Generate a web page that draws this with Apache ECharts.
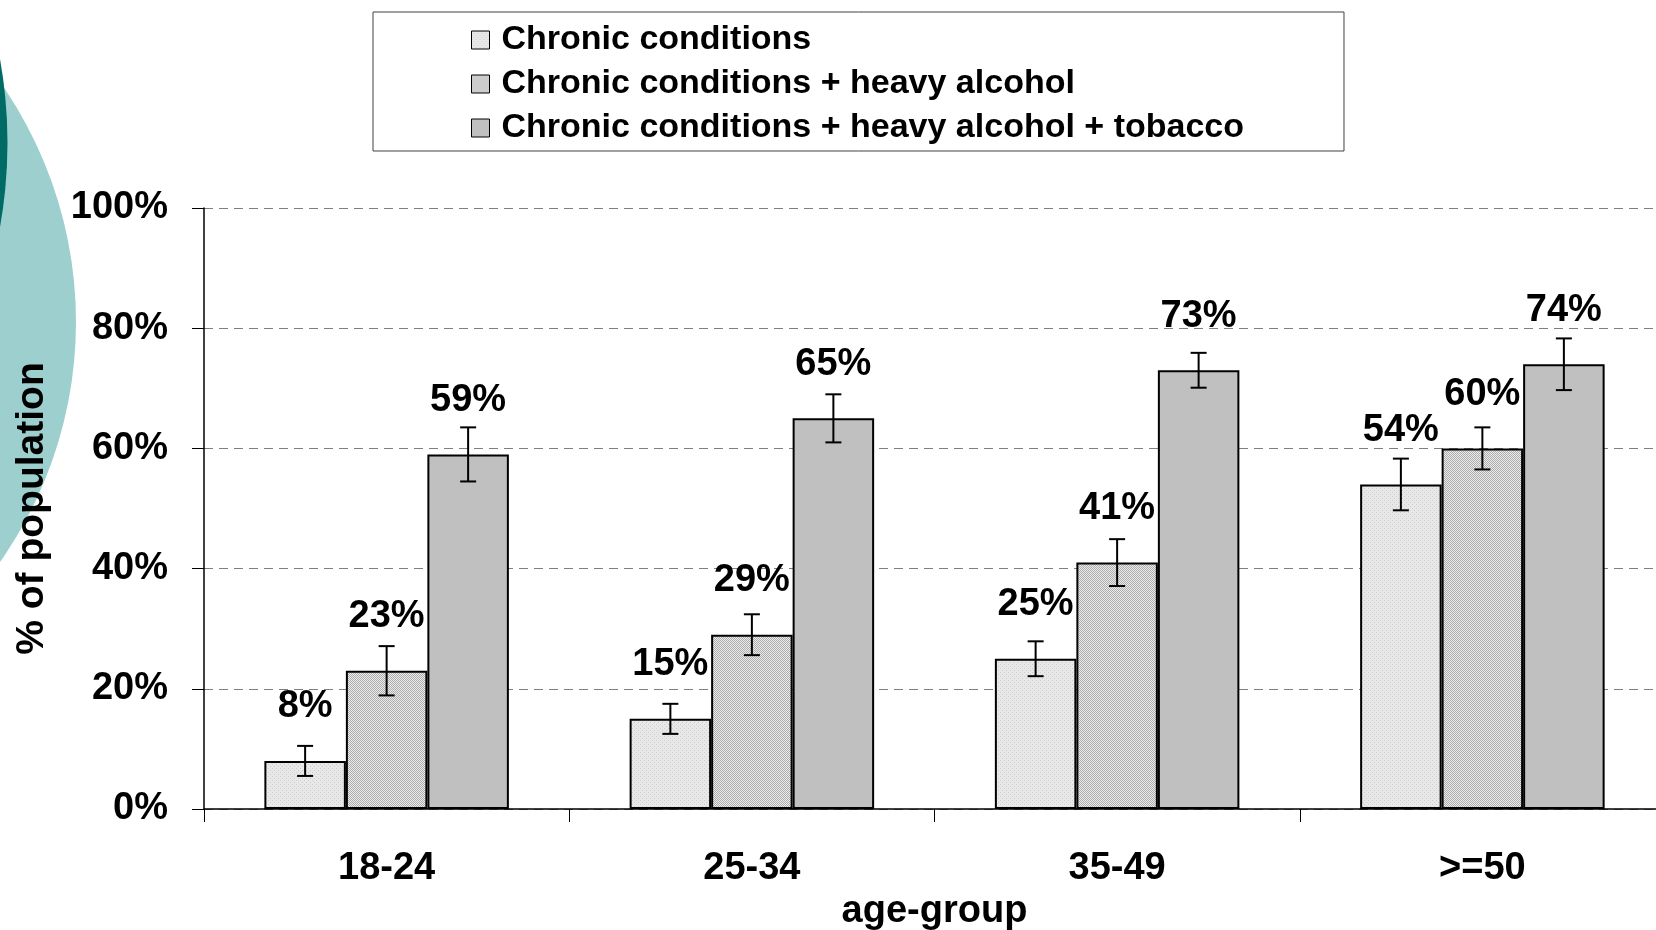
<!DOCTYPE html>
<html><head><meta charset="utf-8">
<script src="https://cdn.jsdelivr.net/npm/echarts@6/dist/echarts.min.js"></script>
<style>html,body{margin:0;padding:0;background:#fff}#c{width:1656px;height:930px}</style>
</head><body><div id="c"></div>
<script>
// ---- data ----
const categories = ['18-24', '25-34', '35-49', '>=50'];
const seriesNames = ['Chronic conditions', 'Chronic conditions + heavy alcohol', 'Chronic conditions + heavy alcohol + tobacco'];
const chronic = [8, 15, 25, 54];
const chronicAlcohol = [23, 29, 41, 60];
const chronicAlcoholTobacco = [59, 65, 73, 74];
const errChronic = [2.5, 2.5, 2.9, 4.3];
const errChronicAlcohol = [4.1, 3.4, 3.9, 3.5];
const errChronicAlcoholTobacco = [4.5, 4.0, 2.9, 4.3];
const yAxisName = '% of population';
const xAxisName = 'age-group';

// ---- styles ----
const FONT = "'Liberation Sans', Arial, Helvetica, sans-serif";
const BAR_W = 81.5;

function pattern(bg, fg, fn) {
  const c = document.createElement('canvas');
  c.width = 4; c.height = 4;
  const g = c.getContext('2d');
  g.fillStyle = bg; g.fillRect(0, 0, 4, 4);
  g.fillStyle = fg;
  for (let x = 0; x < 4; x++) for (let y = 0; y < 4; y++) if (fn(x, y)) g.fillRect(x, y, 1, 1);
  return { image: c, repeat: 'repeat' };
}
const fill1 = pattern('#e8e8e8', '#cdcdcd', (x, y) => ((x + y) % 4 === 0 && x % 2 === 0));
const fill2 = pattern('#ececec', '#acacac', (x, y) => ((x + y) % 2 === 0));
const fill3 = '#c0c0c0';

const chart = echarts.init(document.getElementById('c'), null, { renderer: 'canvas' });

function barSeries(name, values, color) {
  return {
    type: 'bar', name: name, data: values,
    barWidth: BAR_W, barGap: '0%',
    itemStyle: { color: color, borderColor: '#000', borderWidth: 2 },
    label: {
      show: true, position: 'top', distance: 35,
      formatter: '{c}%', fontSize: 38, fontWeight: 'bold', color: '#000', fontFamily: FONT
    },
    z: 3
  };
}
function errSeries(values, errs, idx) {
  return {
    type: 'custom',
    data: values.map((v, i) => [i, v - errs[i], v + errs[i]]),
    encode: { x: 0, y: [1, 2] },
    renderItem: function (params, api) {
      const hi = api.coord([api.value(0), api.value(2)]);
      const lo = api.coord([api.value(0), api.value(1)]);
      const cx = hi[0] + (idx - 1) * BAR_W;
      const cap = 8;
      const st = { stroke: '#000', lineWidth: 2 };
      return {
        type: 'group',
        children: [
          { type: 'line', shape: { x1: cx, y1: hi[1], x2: cx, y2: lo[1] }, style: st },
          { type: 'line', shape: { x1: cx - cap, y1: hi[1], x2: cx + cap, y2: hi[1] }, style: st },
          { type: 'line', shape: { x1: cx - cap, y1: lo[1], x2: cx + cap, y2: lo[1] }, style: st }
        ]
      };
    },
    z: 6, silent: true
  };
}

const option = {
  backgroundColor: '#ffffff',
  animation: false,
  textStyle: { fontFamily: FONT },
  graphic: [
    { type: 'circle', shape: { cx: -341, cy: 322, r: 417 }, style: { fill: '#9dcfcf' }, z: -10, silent: true },
    { type: 'circle', shape: { cx: -468, cy: 143, r: 475.5 }, style: { fill: '#006b65' }, z: -9, silent: true }
  ],
  legend: {
    data: seriesNames,
    orient: 'vertical',
    left: 373, top: 12,
    icon: 'rect',
    itemWidth: 18, itemHeight: 18, itemGap: 10,
    padding: [11, 100, 6, 98],
    borderColor: '#404040', borderWidth: 1,
    backgroundColor: '#fff',
    selectedMode: false,
    itemStyle: { borderColor: '#000', borderWidth: 1 },
    textStyle: { fontSize: 34, fontWeight: 'bold', lineHeight: 34, color: '#000', fontFamily: FONT, padding: [0, 0, 0, 7] }
  },
  grid: { left: 204, top: 208, width: 1461, bottom: 121, containLabel: false, outerBoundsMode: 'none' },
  xAxis: {
    type: 'category', data: categories,
    name: xAxisName, nameLocation: 'middle', nameGap: 76,
    nameTextStyle: { fontSize: 38, fontWeight: 'bold', color: '#000', fontFamily: FONT },
    axisLine: { lineStyle: { color: '#000', width: 1.5 } },
    axisTick: { show: true, length: 13, lineStyle: { color: '#000', width: 1 } },
    axisLabel: { margin: 41, fontSize: 38, fontWeight: 'bold', color: '#000', fontFamily: FONT },
    splitLine: { show: false }
  },
  yAxis: {
    type: 'value', min: 0, max: 100, interval: 20,
    name: yAxisName, nameLocation: 'middle', nameGap: 152, nameRotate: 90,
    nameTextStyle: { fontSize: 39, fontWeight: 'bold', color: '#000', fontFamily: FONT },
    axisLine: { show: true, lineStyle: { color: '#000', width: 1.5 } },
    axisTick: { show: true, length: 12, lineStyle: { color: '#000', width: 1 } },
    axisLabel: { formatter: '{value}%', margin: 36, padding: [10, 0, 0, 0], fontSize: 38, fontWeight: 'bold', color: '#000', fontFamily: FONT },
    splitLine: { show: true, lineStyle: { color: '#7f7f7f', width: 1, type: [9, 6] } }
  },
  series: [
    barSeries(seriesNames[0], chronic, fill1),
    barSeries(seriesNames[1], chronicAlcohol, fill2),
    barSeries(seriesNames[2], chronicAlcoholTobacco, fill3),
    errSeries(chronic, errChronic, 0),
    errSeries(chronicAlcohol, errChronicAlcohol, 1),
    errSeries(chronicAlcoholTobacco, errChronicAlcoholTobacco, 2)
  ]
};
chart.setOption(option);
</script>
</body></html>
